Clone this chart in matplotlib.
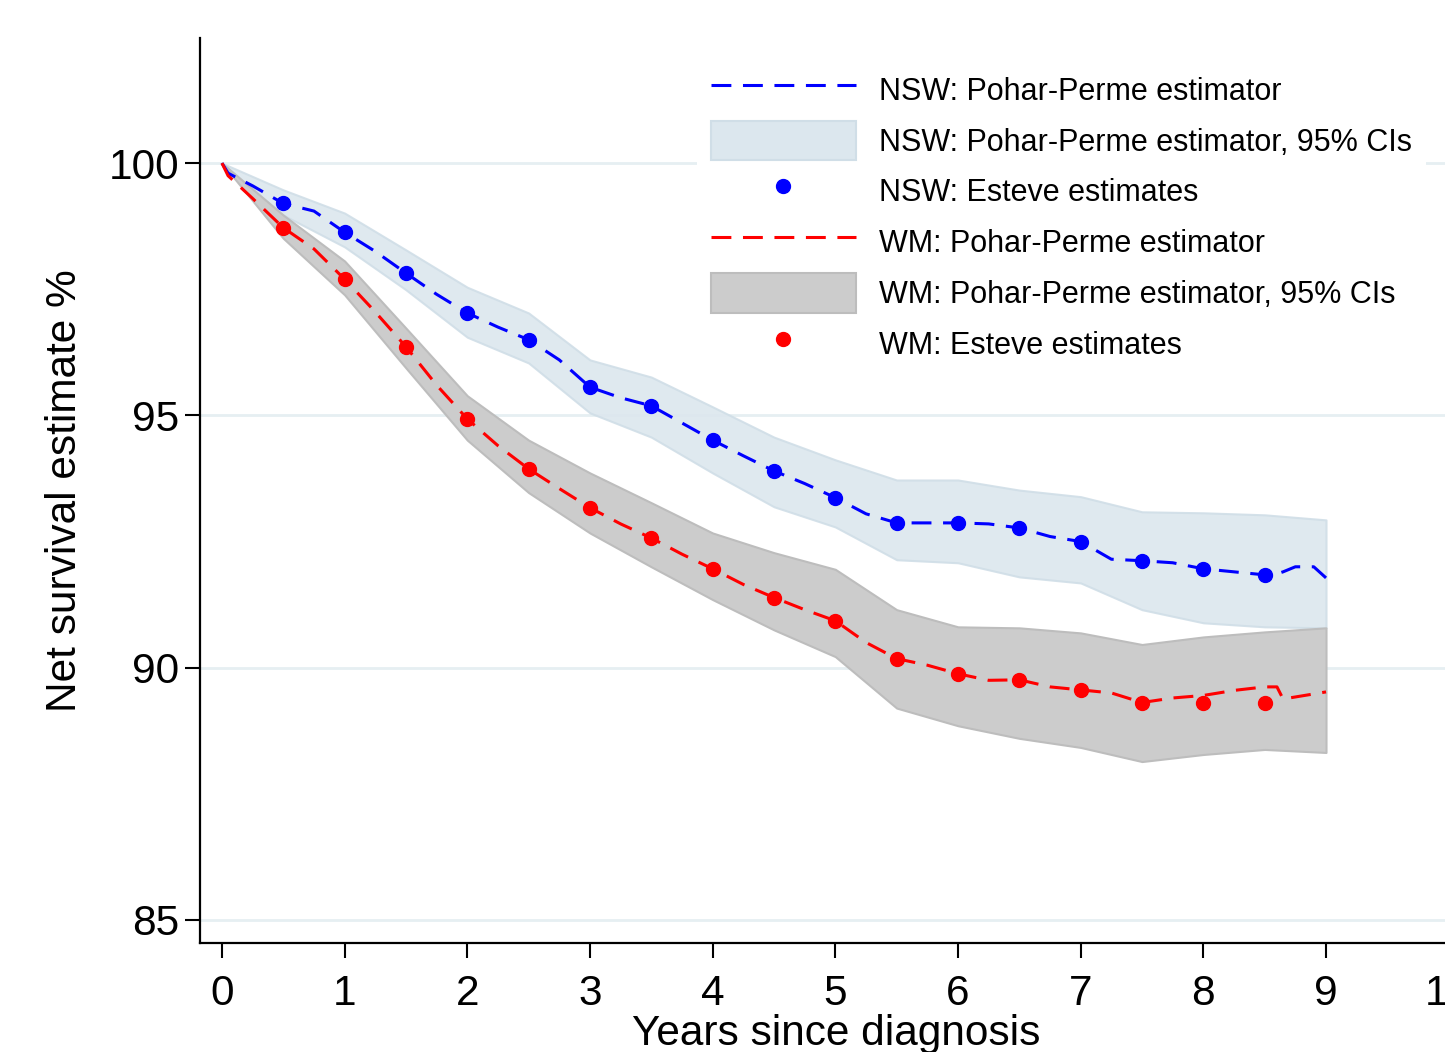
import matplotlib
matplotlib.use("Agg")
import matplotlib.pyplot as plt
from matplotlib.lines import Line2D
from matplotlib.patches import Patch
from matplotlib import font_manager

# ---------------- data ----------------
pp_years = [0, 0.05, 0.25, 0.5, 0.75, 1.0, 1.25, 1.5, 1.75, 2.0, 2.25, 2.5, 2.75, 3.0,
            3.25, 3.5, 3.75, 4.0, 4.25, 4.5, 4.75, 5.0, 5.25, 5.5, 5.75, 6.0, 6.25,
            6.5, 6.75, 7.0, 7.25, 7.5, 7.75, 8.0, 8.25, 8.5, 8.6, 8.65, 8.75, 8.9, 9.0]
nsw_pp = [100, 99.8, 99.55, 99.2, 99.05, 98.63, 98.25, 97.82, 97.4, 97.03, 96.75, 96.5,
          96.1, 95.56, 95.35, 95.19, 94.85, 94.51, 94.2, 93.9, 93.65, 93.37, 93.05,
          92.87, 92.87, 92.87, 92.85, 92.77, 92.6, 92.5, 92.15, 92.12, 92.08, 91.96,
          91.9, 91.84, 91.86, 91.9, 92.0, 92.0, 91.78]
wm_pp = [100, 99.75, 99.3, 98.72, 98.3, 97.7, 97.05, 96.36, 95.6, 94.93, 94.4, 93.94,
         93.55, 93.17, 92.85, 92.57, 92.25, 91.96, 91.65, 91.39, 91.15, 90.93, 90.5,
         90.18, 90.05, 89.88, 89.75, 89.76, 89.62, 89.56, 89.5, 89.31, 89.4, 89.45,
         89.55, 89.62, 89.62, 89.38, 89.42, 89.48, 89.52]

ci_years = [0, 0.5, 1.0, 1.5, 2.0, 2.5, 3.0, 3.5, 4.0, 4.5, 5.0, 5.5, 6.0, 6.5, 7.0,
            7.5, 8.0, 8.5, 9.0]
nsw_upper = [100, 99.47, 99.01, 98.28, 97.54, 97.03, 96.10, 95.76, 95.17, 94.57, 94.12,
             93.72, 93.72, 93.52, 93.39, 93.09, 93.07, 93.03, 92.93]
nsw_lower = [100, 98.97, 98.34, 97.49, 96.55, 96.04, 95.05, 94.57, 93.86, 93.19, 92.79,
             92.14, 92.08, 91.80, 91.68, 91.15, 90.89, 90.81, 90.79]
wm_upper = [100, 98.97, 98.06, 96.73, 95.39, 94.51, 93.86, 93.27, 92.67, 92.28, 91.95,
            91.15, 90.81, 90.79, 90.69, 90.46, 90.61, 90.71, 90.79]
wm_lower = [100, 98.51, 97.39, 95.94, 94.51, 93.47, 92.67, 92.00, 91.35, 90.75, 90.22,
            89.20, 88.85, 88.60, 88.42, 88.14, 88.28, 88.38, 88.32]

est_years = [0.5, 1.0, 1.5, 2.0, 2.5, 3.0, 3.5, 4.0, 4.5, 5.0, 5.5, 6.0, 6.5, 7.0, 7.5,
             8.0, 8.5]
nsw_est = [99.21, 98.63, 97.82, 97.03, 96.50, 95.56, 95.19, 94.51, 93.90, 93.37, 92.87,
           92.87, 92.77, 92.50, 92.12, 91.96, 91.84]
wm_est = [98.71, 97.70, 96.36, 94.93, 93.94, 93.17, 92.57, 91.96, 91.39, 90.93, 90.18,
          89.88, 89.76, 89.56, 89.31, 89.31, 89.31]

x_ticks = list(range(0, 11))
y_ticks = [85, 90, 95, 100]

labels = ["NSW: Pohar-Perme estimator",
          "NSW: Pohar-Perme estimator, 95% CIs",
          "NSW: Esteve estimates",
          "WM: Pohar-Perme estimator",
          "WM: Pohar-Perme estimator, 95% CIs",
          "WM: Esteve estimates"]

# ---------------- style ----------------
names = {f.name for f in font_manager.fontManager.ttflist}
fam = "Liberation Sans" if "Liberation Sans" in names else "DejaVu Sans"
plt.rcParams["font.family"] = [fam, "DejaVu Sans"]

BLUE = "#0000ff"
RED = "#ff0000"
NSW_FILL = "#dce7ee"
NSW_EDGE = "#d0dee7"
WM_FILL = "#cccccc"
WM_EDGE = "#bdbdbd"
GRID = "#e6eff2"

W, H = 1445, 1052
fig = plt.figure(figsize=(W / 100, H / 100), dpi=100)
ax = fig.add_axes([200 / W, 1 - 943 / H, (1472 - 200) / W, (943 - 38) / H])

ax.set_xlim(-0.179, 10.19)
ax.set_ylim(84.544, 102.48)

for y in y_ticks:
    ax.axhline(y, color=GRID, lw=2.0, zorder=0.5)

ax.fill_between(ci_years, nsw_lower, nsw_upper, facecolor=NSW_FILL, edgecolor=NSW_EDGE,
                lw=1.5, alpha=0.9, zorder=1)
ax.fill_between(ci_years, wm_lower, wm_upper, facecolor=WM_FILL, edgecolor=WM_EDGE,
                lw=1.5, zorder=2)

dash = (0, (6.5, 3.8))
ax.plot(pp_years, nsw_pp, color=BLUE, lw=2.2, ls=dash, zorder=3)
ax.plot(pp_years, wm_pp, color=RED, lw=2.2, ls=dash, zorder=3)
ax.plot(est_years, nsw_est, ls="none", marker="o", ms=10, color=BLUE, zorder=4)
ax.plot(est_years, wm_est, ls="none", marker="o", ms=10, color=RED, zorder=4)

for s in ["top", "right"]:
    ax.spines[s].set_visible(False)
for s in ["left", "bottom"]:
    ax.spines[s].set_linewidth(1.6)
    ax.spines[s].set_color("black")

ax.set_xticks(x_ticks)
ax.set_yticks(y_ticks)
ax.tick_params(axis="x", length=11, width=1.5, pad=11, labelsize=30.5)
ax.tick_params(axis="y", length=11, width=1.5, pad=4, labelsize=30.5)

ax.set_xlabel("Years since diagnosis", fontsize=30.5, labelpad=0)
ax.set_ylabel("Net survival estimate %", fontsize=30.5, labelpad=17)

handles = [
    Line2D([], [], color=BLUE, lw=2.2, ls=dash),
    Patch(facecolor=NSW_FILL, edgecolor=NSW_EDGE, lw=1.5),
    Line2D([], [], ls="none", marker="o", ms=10, color=BLUE),
    Line2D([], [], color=RED, lw=2.2, ls=dash),
    Patch(facecolor=WM_FILL, edgecolor=WM_EDGE, lw=1.5),
    Line2D([], [], ls="none", marker="o", ms=10, color=RED),
]
leg = ax.legend(handles, labels, loc="upper left",
                bbox_to_anchor=(697 / W, 1 - 56 / H), bbox_transform=fig.transFigure,
                frameon=True, facecolor="white", edgecolor="none", framealpha=1,
                fancybox=False, fontsize=22.0, handlelength=4.75, handleheight=1.63,
                labelspacing=0.36, handletextpad=0.75, borderpad=0.45, borderaxespad=0)
leg.set_zorder(10)

fig.savefig("out.png", dpi=100, facecolor="white")
